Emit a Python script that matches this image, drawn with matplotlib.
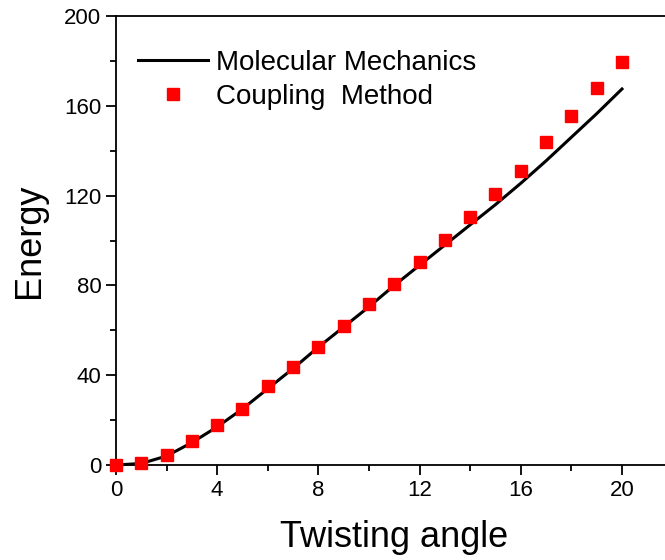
import matplotlib.pyplot as plt
from matplotlib.ticker import MultipleLocator

plt.rcParams['font.family'] = ['Liberation Sans', 'DejaVu Sans']

# twisting angle
angle = [0, 1, 2, 3, 4, 5, 6, 7, 8, 9, 10, 11, 12, 13, 14, 15, 16, 17, 18, 19, 20]
# molecular mechanics curve
mm_energy = [0, 0.7, 4, 10, 17, 25, 34, 43, 52.5, 61.5, 70.5, 80, 89, 98,
             107, 116, 125.5, 135.5, 146, 156.5, 167.5]
# coupling method points
cm_energy = [0, 1, 4.5, 10.7, 17.8, 25, 35, 43.6, 52.5, 62, 71.7, 80.6, 90.4,
             100.2, 110.5, 120.7, 131, 144, 155.5, 168, 179.5]

fig = plt.figure(figsize=(6.65, 5.6), dpi=100)
ax = fig.add_axes([0.1744, 0.1696, 0.837, 0.8018])

ax.plot(angle, mm_energy, color='black', lw=2.2, label='Molecular Mechanics',
        clip_on=False)
ax.plot(angle, cm_energy, 's', color='red', ms=8.5, mec='red',
        label='Coupling  Method', zorder=3, clip_on=False)

ax.set_xlim(0, 22)
ax.set_ylim(0, 200)
ax.xaxis.set_major_locator(MultipleLocator(4))
ax.xaxis.set_minor_locator(MultipleLocator(2))
ax.yaxis.set_major_locator(MultipleLocator(40))
ax.yaxis.set_minor_locator(MultipleLocator(20))
ax.tick_params(which='major', direction='out', length=7, width=1.3, labelsize=16)
ax.tick_params(which='minor', direction='out', length=4, width=1.3)
ax.tick_params(top=False, right=False)
for s in ax.spines.values():
    s.set_linewidth(1.3)

ax.set_xlabel('Twisting angle', fontsize=26, labelpad=14)
ax.set_ylabel('Energy', fontsize=26, labelpad=12)

ax.legend(loc='upper left', bbox_to_anchor=(0.02, 0.95), frameon=False,
          fontsize=20, handlelength=2.5, handletextpad=0.3, labelspacing=0.3,
          borderaxespad=0)

fig.savefig('out.png', dpi=100)
